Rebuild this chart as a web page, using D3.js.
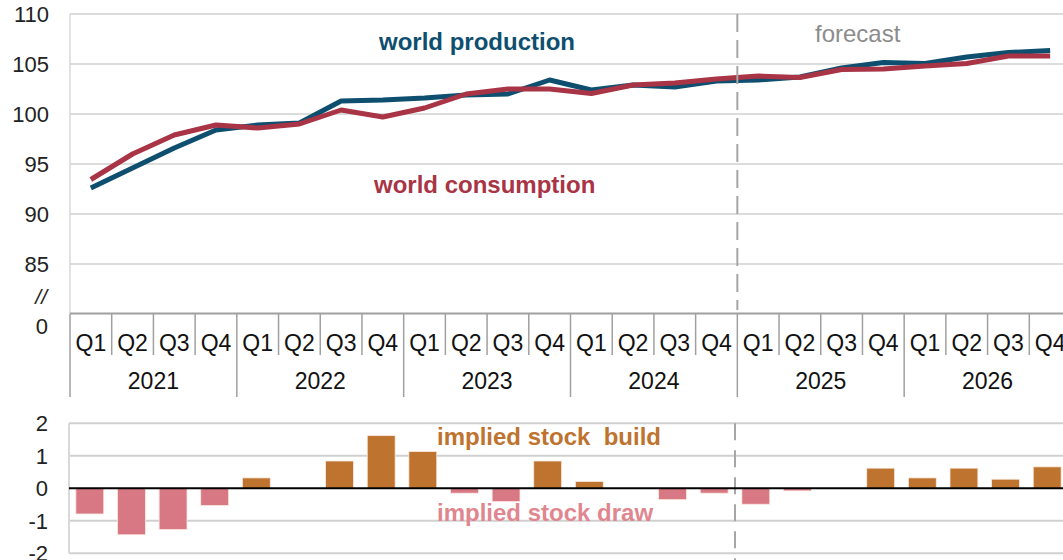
<!DOCTYPE html>
<html>
<head>
<meta charset="utf-8">
<script src="https://cdn.jsdelivr.net/npm/d3@7"></script>
<style>
  html, body { margin: 0; padding: 0; background: #fff; }
  svg { display: block; font-family: "Liberation Sans", Arial, sans-serif; }
</style>
</head>
<body>
<svg id="chart" width="1063" height="560"></svg>
<script>
// ---- data ----
const years = ["2021", "2022", "2023", "2024", "2025", "2026"];
const quarters = ["Q1", "Q2", "Q3", "Q4"];
const production = [92.6, 94.6, 96.6, 98.4, 98.9, 99.1, 101.3, 101.4, 101.6, 101.9, 102.0, 103.4,
                    102.4, 102.9, 102.7, 103.3, 103.4, 103.7, 104.6, 105.15, 105.05, 105.7, 106.15, 106.35];
const consumption = [93.45, 96.0, 97.9, 98.9, 98.6, 99.0, 100.4, 99.7, 100.6, 102.0, 102.5, 102.5,
                     102.05, 102.9, 103.1, 103.5, 103.8, 103.65, 104.45, 104.5, 104.8, 105.05, 105.8, 105.8];
const stockChange = [-0.79, -1.43, -1.27, -0.53, 0.32, 0, 0.84, 1.62, 1.13, -0.15, -0.41, 0.84,
                     0.21, 0, -0.35, -0.15, -0.49, -0.08, 0, 0.62, 0.32, 0.62, 0.28, 0.66];
const topTicks = [85, 90, 95, 100, 105, 110];
const bottomTicks = [-2, -1, 0, 1, 2];
const forecastStartIndex = 16;

// ---- setup ----
const W = 1063;
const svg = d3.select("#chart");
const cats = d3.range(years.length * quarters.length);
const catLabel = i => quarters[i % 4];

const colProd = "#0E4F6F", colCons = "#A83446";
const colBuild = "#BE732E", colDraw = "#D87884", colDrawText = "#E0868F";
const gridCol = "#d0d0d0", axisCol = "#a0a0a0";

// ---- top chart ----
const xTop = d3.scaleBand().domain(cats).range([70, 1071]).padding(0);
const yTop = d3.scaleLinear().domain([80, 110]).range([314, 14]);
const gTop = svg.append("g");

// gridlines
gTop.selectAll("line.grid").data(topTicks).join("line")
  .attr("x1", 70).attr("x2", W)
  .attr("y1", d => yTop(d)).attr("y2", d => yTop(d))
  .attr("stroke", gridCol).attr("stroke-width", 1.5);
// left border
gTop.append("line").attr("x1", 70).attr("x2", 70)
  .attr("y1", yTop(110)).attr("y2", yTop(80))
  .attr("stroke", "#d9d9d9").attr("stroke-width", 1.5);

// y tick labels
gTop.selectAll("text.ytick").data(topTicks).join("text")
  .attr("x", 49).attr("y", d => yTop(d)).attr("dy", "0.35em")
  .attr("text-anchor", "end").attr("font-size", 22).attr("fill", "#222")
  .text(d => d);
gTop.append("text").attr("x", 47).attr("y", 297).attr("dy", "0.35em")
  .attr("text-anchor", "end").attr("font-size", 21).attr("fill", "#222")
  .attr("font-style", "italic").text("//");
gTop.append("text").attr("x", 48).attr("y", 326).attr("dy", "0.35em")
  .attr("text-anchor", "end").attr("font-size", 22).attr("fill", "#222").text("0");

// forecast dashed line
svg.append("line")
  .attr("x1", xTop(forecastStartIndex)).attr("x2", xTop(forecastStartIndex))
  .attr("y1", yTop(110)).attr("y2", 310)
  .attr("stroke", "#a6a6a6").attr("stroke-width", 2).attr("stroke-dasharray", "18,8");

// x axis line
gTop.append("line").attr("x1", 70).attr("x2", W)
  .attr("y1", yTop(80) - 0.5).attr("y2", yTop(80) - 0.5)
  .attr("stroke", axisCol).attr("stroke-width", 2);
// separators
const bounds = d3.range(cats.length + 1);
gTop.selectAll("line.sep").data(bounds).join("line")
  .attr("x1", i => 70 + i * xTop.step()).attr("x2", i => 70 + i * xTop.step())
  .attr("y1", yTop(80)).attr("y2", i => (i % 4 === 0 ? 397 : 355))
  .attr("stroke", axisCol).attr("stroke-width", 1.5);
// quarter labels
gTop.selectAll("text.q").data(cats).join("text")
  .attr("x", i => xTop(i) + xTop.bandwidth() / 2).attr("y", 343).attr("dy", "0.35em")
  .attr("text-anchor", "middle").attr("font-size", 23).attr("fill", "#111")
  .text(catLabel);
// year labels
gTop.selectAll("text.yr").data(years).join("text")
  .attr("x", (d, k) => xTop(k * 4) + 2 * xTop.step()).attr("y", 381).attr("dy", "0.35em")
  .attr("text-anchor", "middle").attr("font-size", 23).attr("fill", "#111")
  .text(d => d);

// lines
const lineGen = d3.line()
  .x((d, i) => xTop(i) + xTop.bandwidth() / 2)
  .y(d => yTop(d));
gTop.append("path").datum(production).attr("d", lineGen)
  .attr("fill", "none").attr("stroke", colProd).attr("stroke-width", 5)
  .attr("stroke-linejoin", "round");
gTop.append("path").datum(consumption).attr("d", lineGen)
  .attr("fill", "none").attr("stroke", colCons).attr("stroke-width", 5)
  .attr("stroke-linejoin", "round");

// annotations
gTop.append("text").attr("x", 379).attr("y", 50)
  .attr("font-size", 24).attr("font-weight", "bold").attr("fill", colProd)
  .text("world production");
gTop.append("text").attr("x", 374).attr("y", 193)
  .attr("font-size", 24).attr("font-weight", "bold").attr("fill", colCons)
  .text("world consumption");
gTop.append("text").attr("x", 815).attr("y", 42)
  .attr("font-size", 24).attr("fill", "#8c8c8c")
  .text("forecast");

// ---- bottom chart ----
const xBot = d3.scaleBand().domain(cats).range([69, 1068]).paddingInner(0.33).paddingOuter(0.165);
const yBot = d3.scaleLinear().domain([-2, 2]).range([553.3, 423.3]);
const gBot = svg.append("g");

gBot.selectAll("line.grid").data(bottomTicks.filter(d => d !== 0)).join("line")
  .attr("x1", 69).attr("x2", W)
  .attr("y1", d => yBot(d)).attr("y2", d => yBot(d))
  .attr("stroke", gridCol).attr("stroke-width", 2);
gBot.append("line").attr("x1", 69).attr("x2", 69)
  .attr("y1", yBot(2)).attr("y2", yBot(-2))
  .attr("stroke", "#d9d9d9").attr("stroke-width", 2);

gBot.selectAll("text.ytick").data(bottomTicks).join("text")
  .attr("x", 48).attr("y", d => yBot(d)).attr("dy", "0.35em")
  .attr("text-anchor", "end").attr("font-size", 22).attr("fill", "#222")
  .text(d => d);

// annotations (under bars)
gBot.append("text").attr("x", 437).attr("y", 445)
  .attr("font-size", 24).attr("font-weight", "bold").attr("fill", colBuild)
  .style("white-space", "pre")
  .text("implied stock  build");
gBot.append("text").attr("x", 437).attr("y", 521)
  .attr("font-size", 24).attr("font-weight", "bold").attr("fill", colDrawText)
  .text("implied stock draw");

// forecast dashed line (bottom)
const xBotSplit = 69 + forecastStartIndex * xBot.step();
gBot.append("line")
  .attr("x1", xBotSplit).attr("x2", xBotSplit)
  .attr("y1", yBot(2)).attr("y2", 560)
  .attr("stroke", "#a6a6a6").attr("stroke-width", 2).attr("stroke-dasharray", "17,10");

// bars
gBot.selectAll("rect.bar").data(stockChange).join("rect")
  .attr("x", (d, i) => xBot(i))
  .attr("width", xBot.bandwidth())
  .attr("y", d => yBot(Math.max(0, d)))
  .attr("height", d => Math.abs(yBot(d) - yBot(0)))
  .attr("fill", d => (d >= 0 ? colBuild : colDraw))
  .attr("stroke", "#fbe9e0").attr("stroke-width", 0.8);

// zero line
gBot.append("line").attr("x1", 69).attr("x2", W)
  .attr("y1", yBot(0)).attr("y2", yBot(0))
  .attr("stroke", "#000").attr("stroke-width", 2);
</script>
</body>
</html>
